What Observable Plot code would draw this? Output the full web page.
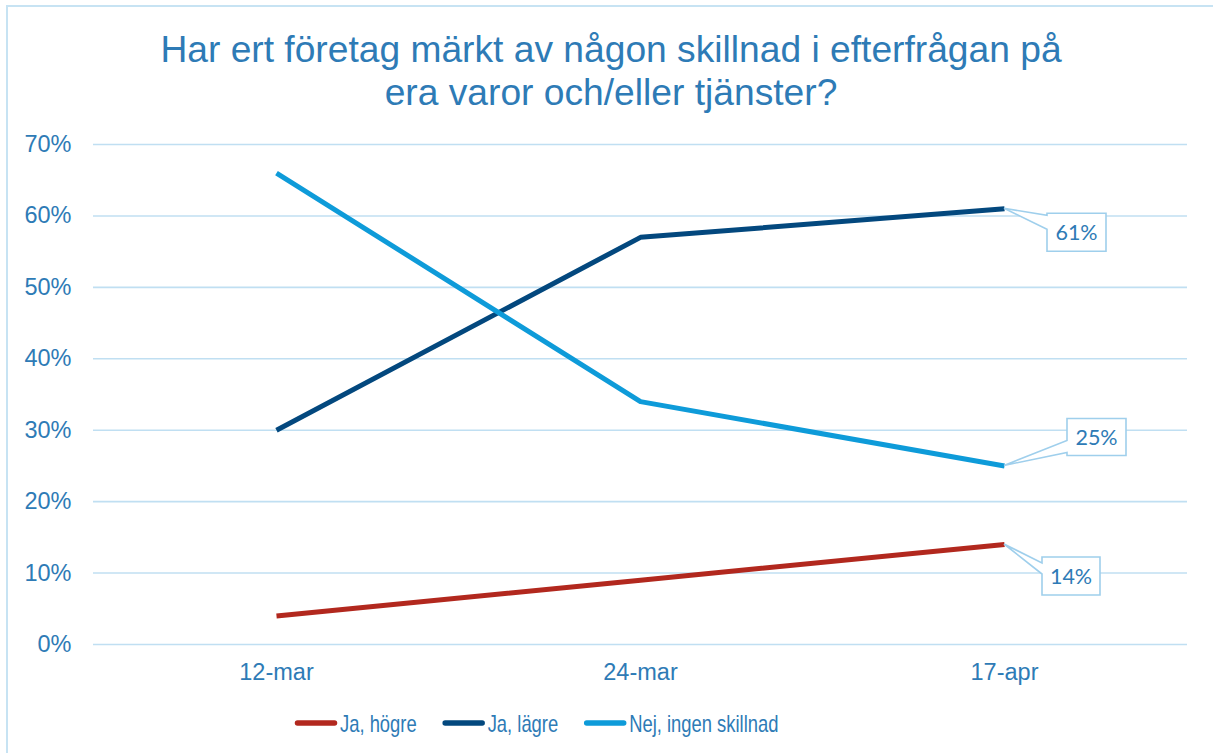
<!DOCTYPE html>
<html><head><meta charset="utf-8">
<script src="https://cdn.jsdelivr.net/npm/d3@7"></script>
<script src="https://cdn.jsdelivr.net/npm/@observablehq/plot@0.6"></script>
<style>
body{margin:0;background:#fff;}
#wrap{position:relative;width:1213px;height:753px;overflow:hidden;font-family:"Liberation Sans",Arial,sans-serif;background:#fff;}
#frameTop{position:absolute;left:6px;top:5px;width:1207px;height:0;border-top:2px solid #c7e3f3;}
#frameLeft{position:absolute;left:6px;top:5px;width:0;height:760px;border-left:2px solid #c7e3f3;}
#title{position:absolute;left:0;width:1222px;top:28px;text-align:center;font-size:37.2px;line-height:43px;color:#2e7bb6;}
#chart{position:absolute;left:0;top:0;}
#legend{position:absolute;left:0;top:700px;}
</style>
</head><body>
<div id="wrap">
  <div id="chart"></div>
  <div id="frameTop"></div>
  <div id="frameLeft"></div>
  <div id="title">Har ert företag märkt av någon skillnad i efterfrågan på<br>era varor och/eller tjänster?</div>
  <svg id="legend" width="1213" height="45"></svg>
</div>
<script>
const dates = ["12-mar", "24-mar", "17-apr"];
const seriesNames = ["Ja, högre", "Ja, lägre", "Nej, ingen skillnad"];
const jaHogre = [4, 9, 14];
const jaLagre = [30, 57, 61];
const nejIngen = [66, 34, 25];
const yTicks = [0, 10, 20, 30, 40, 50, 60, 70];
const seriesColors = ["#b2281e", "#03487e", "#0e9bd9"];

const seriesValues = [jaHogre, jaLagre, nejIngen];
const data = [];
seriesNames.forEach((s, i) => dates.forEach((d, j) => data.push({series: s, date: d, value: seriesValues[i][j]})));

// last-point labels with callout box geometry (pixel offsets from the point)
const calloutGeom = {
  "Ja, högre": {dx: 38, dy: 13, w: 58, h: 38, a: 6, b: 17},
  "Ja, lägre": {dx: 43, dy: 5, w: 59, h: 38, a: 2, b: 16},
  "Nej, ingen skillnad": {dx: 63, dy: -47, w: 59, h: 37, a: 22, b: 34}
};
const labelRows = seriesNames.map((s, i) => ({series: s, date: dates[dates.length - 1], value: seriesValues[i][dates.length - 1]}));

function callouts(index, scales, values, dimensions, context) {
  const g = d3.create("svg:g");
  for (const r of labelRows) {
    const px = scales.x(r.date), py = scales.y(r.value);
    const c = calloutGeom[r.series];
    const L = px + c.dx, T = py + c.dy, R = L + c.w, B = T + c.h;
    g.append("path")
      .attr("d", `M${L},${T}H${R}V${B}H${L}V${T + c.b}L${px},${py}L${L},${T + c.a}Z`)
      .attr("fill", "#fff").attr("stroke", "#9fcfec").attr("stroke-width", 1.6).attr("stroke-linejoin", "miter");
    g.append("text")
      .attr("x", (L + R) / 2).attr("y", (T + B) / 2).attr("dy", "0.36em")
      .attr("text-anchor", "middle")
      .attr("font-family", "Lato, 'Open Sans', sans-serif").attr("font-size", 21.5)
      .attr("fill", "#2e7bb6")
      .text(r.value + "%");
  }
  return g.node();
}

const plot = Plot.plot({
  width: 1213,
  height: 753,
  marginTop: 144,
  marginBottom: 109,
  marginLeft: 93,
  marginRight: 26,
  style: {background: "transparent", fontFamily: "'Liberation Sans', Arial, sans-serif", overflow: "visible"},
  x: {type: "point", domain: dates, padding: 0.5},
  y: {domain: [0, 70]},
  color: {domain: seriesNames, range: seriesColors},
  marks: [
    Plot.gridY(yTicks, {stroke: "#c0dff2", strokeOpacity: 1, strokeWidth: 1.6}),
    Plot.axisY(yTicks, {tickSize: 0, tickPadding: 22, tickFormat: d => d + "%", fontSize: 23.5, fill: "#2e7bb6", label: null}),
    Plot.axisX({tickSize: 0, tickPadding: 19, fontSize: 23.5, fill: "#2e7bb6", label: null}),
    Plot.lineY(data, {x: "date", y: "value", z: "series", stroke: "series", strokeWidth: 5, strokeLinecap: "butt"}),
    callouts
  ]
});
document.getElementById("chart").appendChild(plot);

// legend: swatch + horizontally condensed text
const leg = d3.select("#legend");
let cx = 295;
const baseY = 32;
seriesNames.forEach((s, i) => {
  leg.append("line").attr("x1", cx + 2.5).attr("x2", cx + 39.5).attr("y1", 23).attr("y2", 23)
    .attr("stroke", seriesColors[i]).attr("stroke-width", 5.5).attr("stroke-linecap", "round");
  const tx = cx + 45;
  const t = leg.append("text")
    .attr("transform", `translate(${tx},${baseY}) scale(0.8,1)`)
    .attr("font-family", "'Liberation Sans', Arial, sans-serif").attr("font-size", 23)
    .attr("fill", "#2e7bb6").text(s);
  const w = t.node().getComputedTextLength() * 0.8;
  cx = tx + w + 26;
});
</script>
</body></html>
